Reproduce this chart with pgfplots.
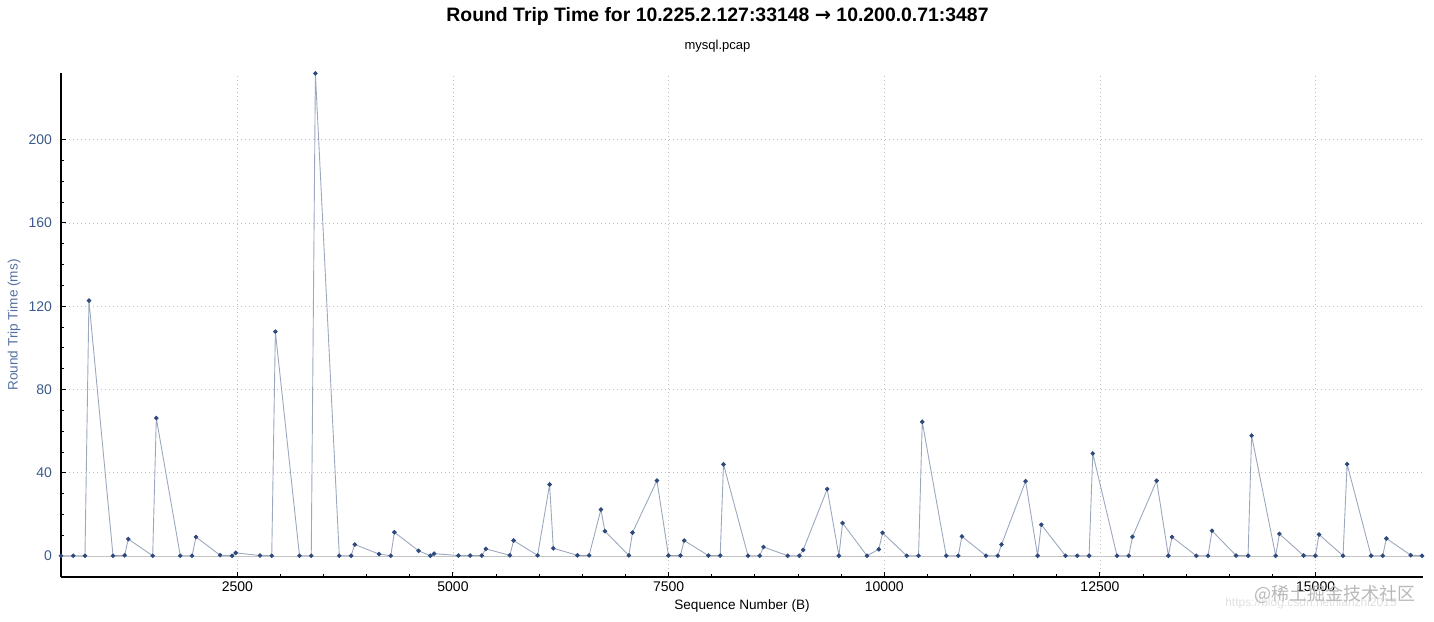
\documentclass[border=0pt]{standalone}
\usepackage{fontspec}
\setmainfont{Liberation Sans}
\newfontfamily\dejavu{DejaVu Sans}
\newfontfamily\cjk{Noto Sans CJK SC}
\usepackage{pgfplots}
\pgfplotsset{compat=1.18}
\usetikzlibrary{calc}
\definecolor{tickblue}{HTML}{3B5B8C}
\definecolor{ylabblue}{HTML}{5470A0}
\definecolor{markblue}{HTML}{2E4A7D}
\definecolor{linegray}{HTML}{9CA8BE}
\definecolor{gridgray}{HTML}{BDBDBD}
\definecolor{zerogray}{HTML}{C4C4C4}

\begin{document}
\begin{tikzpicture}
\begin{axis}[
  name=ax,
  scale only axis,
  width=681pt, height=252pt,
  xmin=456, xmax=16245,
  ymin=-10, ymax=232,
  axis x line*=bottom, axis y line*=left,
  axis line style={black, line width=0.6pt, -},
  xtick={2500,5000,...,15000},
  ytick={0,40,...,200},
  scaled x ticks=false,
  minor x tick num=4,
  minor y tick num=3,
  tick align=inside,
  major tick length=2.5pt,
  minor tick length=1.3pt,
  tick style={black, line width=0.5pt},
  grid=major,
  major grid style={gridgray, line width=0.4pt, dash pattern=on 0.5pt off 1.5pt},
  /pgf/number format/assume math mode=true,
  /pgf/number format/set thousands separator={},
  xticklabel style={font=\fontsize{7}{8}\selectfont, black, yshift=1pt},
  yticklabel style={font=\fontsize{7}{8}\selectfont, tickblue, xshift=-1pt},
  clip=false,
]
\addplot[zerogray, line width=0.5pt, forget plot] coordinates {(456,0) (16245,0)};
\addplot[linegray, line width=0.45pt, mark=*, mark size=0.9pt,
  mark options={draw=markblue, fill=markblue}] table {
x y
456 0.2
598 0.2
734 0.2
780 122.7
1059 0.2
1194 0.4
1236 8.2
1519 0.2
1561 66.3
1839 0.2
1975 0.2
2021 9.2
2300 0.5
2439 0.2
2482 1.6
2763 0.3
2899 0.2
2941 107.8
3221 0.2
3357 0.2
3405 231.8
3682 0.2
3819 0.2
3862 5.6
4143 1.0
4279 0.2
4321 11.5
4601 2.6
4738 0.2
4781 1.2
5063 0.3
5199 0.3
5334 0.3
5381 3.5
5659 0.4
5703 7.5
5981 0.4
6120 34.4
6163 3.8
6443 0.4
6578 0.4
6715 22.4
6761 12.0
7039 0.4
7081 11.3
7364 36.3
7498 0.3
7637 0.3
7680 7.5
7961 0.3
8098 0.3
8136 44.1
8420 0.2
8556 0.2
8600 4.4
8880 0.2
9016 0.2
9060 3.0
9338 32.2
9474 0.2
9516 15.9
9799 0.2
9936 3.3
9980 11.2
10260 0.2
10397 0.2
10440 64.5
10718 0.2
10857 0.2
10900 9.5
11179 0.2
11315 0.2
11359 5.6
11638 36.0
11777 0.2
11820 15.1
12100 0.2
12237 0.2
12374 0.2
12417 49.3
12698 0.2
12834 0.2
12877 9.3
13157 36.2
13293 0.2
13335 9.2
13617 0.2
13753 0.2
13799 12.2
14078 0.3
14217 0.2
14258 57.9
14537 0.2
14580 10.7
14861 0.3
14997 0.2
15040 10.4
15318 0.2
15365 44.2
15643 0.2
15778 0.2
15820 8.5
16102 0.5
16234 0.2
};
\end{axis}
% titles and labels
\node[font=\fontsize{9.7}{11}\selectfont\bfseries] at ($(ax.north west)+(328.25pt,28.5pt)$)
  {Round Trip Time for 10.225.2.127:33148 {\dejavu\bfseries →} 10.200.0.71:3487};
\node[font=\fontsize{6.5}{8}\selectfont] at ($(ax.north west)+(328.25pt,13.5pt)$) {mysql.pcap};
\node[font=\fontsize{6.8}{8}\selectfont, rotate=90, ylabblue] at ($(ax.west)+(-23.5pt,0)$) {Round Trip Time (ms)};
\node[font=\fontsize{6.8}{8}\selectfont] at ($(ax.south)+(0,-14.5pt)$) {Sequence Number (B)};
% watermark
\node[font=\fontsize{6}{7}\selectfont, black!12] at ($(ax.south west)+(625pt,-13pt)$) {https://blog.csdn.net/lianzhi2015};
\node[font=\fontsize{9}{10}\selectfont, black!28] at ($(ax.south west)+(637pt,-8.5pt)$) {{\cjk @稀土掘金技术社区}};
\pgfresetboundingbox
\path[use as bounding box] ($(ax.south west)+(-30.5pt,-22pt)$) rectangle ($(ax.north east)+(5.5pt,36.5pt)$);
\end{tikzpicture}
\end{document}
